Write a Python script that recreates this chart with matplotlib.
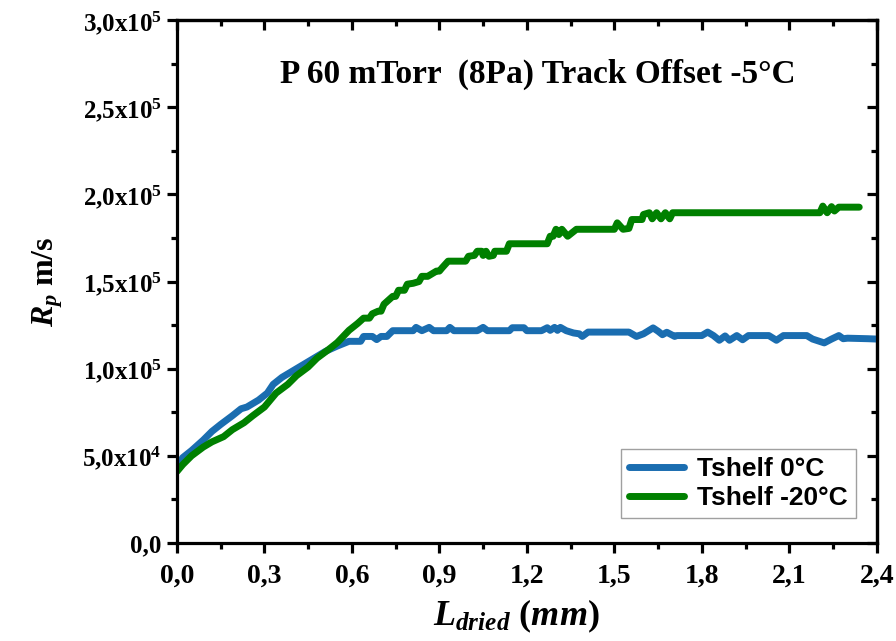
import matplotlib.pyplot as plt
from matplotlib.ticker import FixedLocator, MultipleLocator

# drying front depth (mm) and product resistance (x1e3 m/s)
L_SHELF_0 = [0.00, 0.02, 0.05, 0.09, 0.12, 0.15, 0.19, 0.22, 0.24, 0.28,
             0.31, 0.33, 0.36, 0.41, 0.44, 0.48, 0.51, 0.55, 0.59, 0.63,
             0.64, 0.67, 0.685, 0.70, 0.72, 0.74, 0.81, 0.82, 0.84, 0.865,
             0.88, 0.925, 0.936, 0.95, 1.03, 1.05, 1.065, 1.14, 1.15, 1.19,
             1.20, 1.25, 1.27, 1.28, 1.295, 1.305, 1.315, 1.335, 1.36, 1.38,
             1.39, 1.41, 1.55, 1.576, 1.60, 1.633, 1.65, 1.665, 1.68, 1.707,
             1.714, 1.80, 1.82, 1.84, 1.86, 1.88, 1.895, 1.92, 1.94, 1.96,
             2.03, 2.056, 2.08, 2.16, 2.18, 2.22, 2.245, 2.27, 2.285, 2.30,
             2.37, 2.40]
RP_SHELF_0 = [44, 49, 53, 59, 64, 68, 73, 77, 78, 82,
              86, 91, 95, 100, 103, 107, 110, 113, 115.7, 115.7,
              118.5, 118.5, 116.7, 118.5, 118.5, 121.8, 121.8, 123.7, 121.8, 123.7,
              121.8, 121.8, 123.7, 121.8, 121.8, 123.7, 121.8, 121.8, 123.5, 123.5,
              121.8, 121.8, 123.5, 122, 123.7, 122, 123.7, 121.8, 120.5, 120,
              118.5, 121, 121, 118.5, 120, 123.4, 121.5, 119.5, 120.9, 118.5,
              119, 119, 121, 119, 116.3, 118.8, 116.3, 119, 116.6, 119,
              119, 116.3, 119, 119, 117, 114.8, 117, 119, 117.2, 117.5,
              117.2, 117]

L_SHELF_M20 = [0.00, 0.02, 0.05, 0.09, 0.12, 0.16, 0.19, 0.23, 0.26, 0.30,
               0.34, 0.38, 0.41, 0.45, 0.48, 0.52, 0.55, 0.59, 0.62, 0.64,
               0.66, 0.67, 0.69, 0.70, 0.71, 0.74, 0.75, 0.76, 0.78, 0.79,
               0.81, 0.83, 0.84, 0.86, 0.89, 0.90, 0.91, 0.93, 0.99, 1.00,
               1.02, 1.03, 1.045, 1.05, 1.06, 1.07, 1.085, 1.09, 1.13, 1.14,
               1.27, 1.28, 1.29, 1.30, 1.31, 1.32, 1.34, 1.37, 1.50, 1.51,
               1.53, 1.55, 1.56, 1.595, 1.60, 1.62, 1.63, 1.645, 1.66, 1.675,
               1.69, 1.70, 2.205, 2.215, 2.23, 2.245, 2.255, 2.27, 2.34]
RP_SHELF_M20 = [41, 45, 50, 55, 58, 61, 65, 69, 73, 78,
                86, 91, 96, 101, 106, 111, 115, 122, 126, 129,
                129, 131.5, 133, 133, 137, 141.5, 141.5, 145, 145, 148.5,
                149, 150, 153, 153, 156, 156, 158, 161.7, 161.7, 164.5,
                165, 167.4, 167.4, 165, 167.4, 164.5, 165, 167.4, 167.4, 171.7,
                171.7, 176, 176, 180, 177, 180, 176, 180, 180, 183.7,
                180, 180.5, 185.6, 185.6, 188.5, 189.5, 186, 189.5, 186, 189.5,
                186, 189.5, 189.5, 193.3, 189.5, 193, 190.5, 192.7, 192.7]

SERIES_LABELS = ["Tshelf 0°C", "Tshelf -20°C"]
SERIES_COLORS = ["#1a6db0", "#008000"]

X_TICKS = [0.0, 0.3, 0.6, 0.9, 1.2, 1.5, 1.8, 2.1, 2.4]
X_TICK_LABELS = ["0,0", "0,3", "0,6", "0,9", "1,2", "1,5", "1,8", "2,1", "2,4"]
Y_TICKS = [0, 5e4, 1e5, 1.5e5, 2e5, 2.5e5, 3e5]
Y_TICK_LABELS = ["0,0", r"5,0x10$^{4}$", r"1,0x10$^{5}$", r"1,5x10$^{5}$",
                 r"2,0x10$^{5}$", r"2,5x10$^{5}$", r"3,0x10$^{5}$"]

TITLE = "P 60 mTorr  (8Pa) Track Offset -5°C"

SERIF = "Liberation Serif"

plt.rcParams["mathtext.fontset"] = "custom"
plt.rcParams["mathtext.rm"] = "Liberation Serif:bold"
plt.rcParams["mathtext.bf"] = "Liberation Serif:bold"
plt.rcParams["mathtext.it"] = "Liberation Serif:bold:italic"


def main() -> None:
    fig = plt.figure(figsize=(8.96, 6.41), dpi=100)
    ax = fig.add_axes([0.1975, 0.153, 0.781, 0.8155])

    series = [
        (L_SHELF_0, RP_SHELF_0),
        (L_SHELF_M20, RP_SHELF_M20),
    ]
    for (x, y), label, color in zip(series, SERIES_LABELS, SERIES_COLORS):
        ax.plot(x, [v * 1e3 for v in y], color=color, lw=5, label=label,
                solid_capstyle="round", solid_joinstyle="round")

    ax.set_xlim(0, 2.4)
    ax.set_ylim(0, 3e5)

    ax.xaxis.set_major_locator(FixedLocator(X_TICKS))
    ax.xaxis.set_minor_locator(MultipleLocator(0.15))
    ax.yaxis.set_major_locator(FixedLocator(Y_TICKS))
    ax.yaxis.set_minor_locator(MultipleLocator(2.5e4))
    ax.set_xticklabels(X_TICK_LABELS, family=SERIF, weight="bold", fontsize=20)
    ax.set_yticklabels(Y_TICK_LABELS, family=SERIF, weight="bold", fontsize=18)

    for side in ["left", "right", "top", "bottom"]:
        ax.spines[side].set_linewidth(2.3)
    ax.tick_params(which="major", direction="out", length=7, width=2.3,
                   pad=4)
    ax.tick_params(which="minor", direction="out", length=4.5, width=2.3)
    ax.tick_params(which="major", axis="x", pad=8)

    # unlabelled mirror ticks on the top and right, pointing in
    secx = ax.secondary_xaxis("top")
    secx.set_xticks(X_TICKS)
    secx.xaxis.set_minor_locator(MultipleLocator(0.15))
    secx.tick_params(which="major", direction="in", length=7, width=2.3,
                     labeltop=False)
    secx.tick_params(which="minor", direction="in", length=4.5, width=2.3)
    secx.spines["top"].set_linewidth(2.3)
    secy = ax.secondary_yaxis("right")
    secy.set_yticks(Y_TICKS)
    secy.yaxis.set_minor_locator(MultipleLocator(2.5e4))
    secy.tick_params(which="major", direction="in", length=7, width=2.3,
                     labelright=False)
    secy.tick_params(which="minor", direction="in", length=4.5, width=2.3)
    secy.spines["right"].set_linewidth(2.3)

    ax.set_xlabel(r"$L_{dried}\ (mm)$", fontsize=26)
    ax.xaxis.set_label_coords(0.485, -0.104)
    ax.set_ylabel(r"$R_p$ m/s", family=SERIF, weight="bold", fontsize=23)
    ax.yaxis.set_label_coords(-0.16, 0.5)

    ax.text(0.516, 0.897, TITLE, transform=ax.transAxes, ha="center",
            va="center", family=SERIF, weight="bold", fontsize=24)

    leg = ax.legend(loc="lower right", bbox_to_anchor=(0.97, 0.047),
                    prop={"family": "Liberation Sans", "weight": "bold",
                          "size": 19},
                    frameon=True, fancybox=False, edgecolor="#888888",
                    handlelength=2.1, handletextpad=0.5, borderpad=0.3,
                    labelspacing=0.2, borderaxespad=0)
    leg.get_frame().set_linewidth(1.0)

    fig.savefig("out.png", dpi=100)
    plt.close(fig)


if __name__ == "__main__":
    main()
